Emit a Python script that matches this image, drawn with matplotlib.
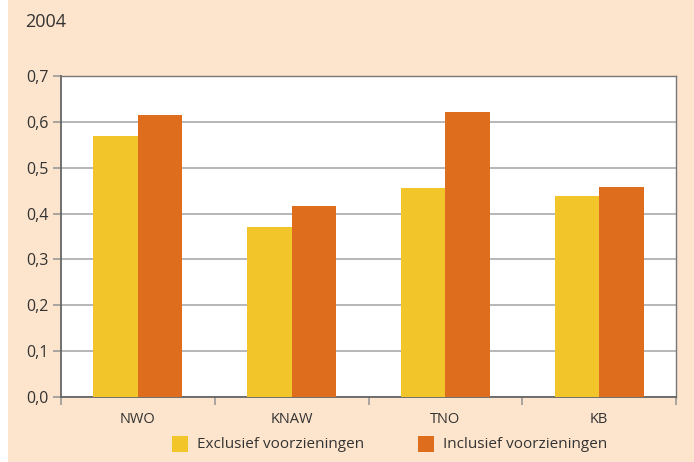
import numpy as np
import matplotlib.pyplot as plt
from matplotlib.patches import Rectangle

plt.rcParams['font.family'] = ['Open Sans', 'DejaVu Sans']

categories = ['NWO', 'KNAW', 'TNO', 'KB']
exclusief = [0.569, 0.371, 0.456, 0.438]
inclusief = [0.615, 0.416, 0.621, 0.458]
yticks = [0.0, 0.1, 0.2, 0.3, 0.4, 0.5, 0.6, 0.7]
ytick_labels = ['0,0', '0,1', '0,2', '0,3', '0,4', '0,5', '0,6', '0,7']

bg = '#FDE4CC'
c_excl = '#F2C62A'
c_incl = '#DE6E1E'
txt = '#333333'

fig = plt.figure(figsize=(6.94, 4.62), dpi=100, facecolor='white')
fig.patches.append(Rectangle((8 / 694, 0), 1, 1, transform=fig.transFigure,
                             facecolor=bg, edgecolor='none', zorder=-10))

ax = fig.add_axes([61 / 694, 1 - 397 / 462, 615 / 694, 321 / 462])
ax.set_facecolor('white')

x = np.arange(len(categories))
w = 0.29
ax.bar(x - w / 2, exclusief, width=w, color=c_excl, zorder=3)
ax.bar(x + w / 2, inclusief, width=w, color=c_incl, zorder=3)

ax.set_xlim(-0.5, len(categories) - 0.5)
ax.set_ylim(0, 0.7)
ax.set_yticks(yticks)
ax.set_yticklabels(ytick_labels, fontsize=11.5, color=txt)
ax.yaxis.grid(True, color='#aaaaaa', linewidth=1.2, zorder=0)

ax.set_xticks(x)
ax.set_xticklabels(categories, fontsize=10.5, color=txt)
ax.tick_params(axis='x', which='major', length=0, pad=11)
ax.set_xticks(np.arange(len(categories) + 1) - 0.5, minor=True)
ax.tick_params(axis='x', which='minor', length=6, color='#999999', width=1.2)
ax.tick_params(axis='y', length=6, color='#999999', width=1.2, pad=3)

for side in ['left', 'bottom']:
    ax.spines[side].set_color('#666666')
    ax.spines[side].set_linewidth(1.3)
for side in ['top', 'right']:
    ax.spines[side].set_color('#777777')
    ax.spines[side].set_linewidth(1.0)

fig.text(25 / 694, 1 - 22 / 462, '2004', fontsize=13, color=txt, va='center')

# legend
fig.patches.append(Rectangle((172 / 694, 1 - 452 / 462), 16 / 694, 16 / 462,
                             transform=fig.transFigure, facecolor=c_excl, edgecolor='none'))
fig.text(197 / 694, 1 - 445 / 462, 'Exclusief voorzieningen', fontsize=11, color=txt, va='center')
fig.patches.append(Rectangle((418 / 694, 1 - 452 / 462), 16 / 694, 16 / 462,
                             transform=fig.transFigure, facecolor=c_incl, edgecolor='none'))
fig.text(443 / 694, 1 - 445 / 462, 'Inclusief voorzieningen', fontsize=11, color=txt, va='center')

fig.savefig('out.png', dpi=100, facecolor=fig.get_facecolor())
